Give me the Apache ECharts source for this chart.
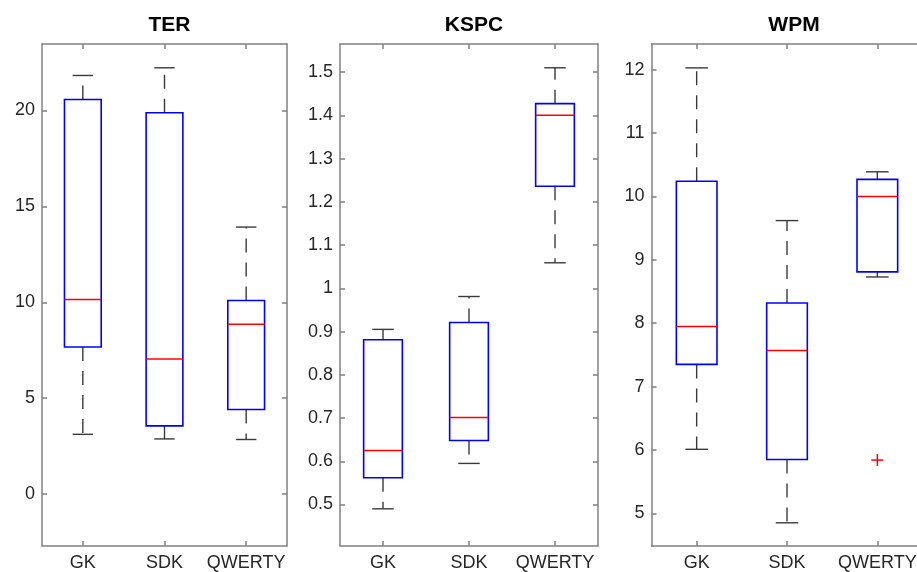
<!DOCTYPE html>
<html>
<head>
<meta charset="utf-8">
<script src="https://cdn.jsdelivr.net/npm/echarts@6/dist/echarts.min.js"></script>
<style>
html,body{margin:0;padding:0;background:#fff;overflow:hidden;}
#chart{width:930px;height:572px;}
</style>
</head>
<body>
<div id="chart"></div>
<script>
// ---- data ----
const categories = ['GK', 'SDK', 'QWERTY'];
const panelTitles = ['TER', 'KSPC', 'WPM'];
// [lower whisker, Q1, median, Q3, upper whisker]
const terStats = [[3.12, 7.67, 10.14, 20.57, 21.82], [2.88, 3.56, 7.05, 19.88, 22.22], [2.85, 4.41, 8.85, 10.09, 13.92]];
const kspcStats = [[0.49, 0.562, 0.625, 0.881, 0.905], [0.595, 0.648, 0.701, 0.921, 0.981], [1.059, 1.236, 1.40, 1.427, 1.51]];
const wpmStats = [[6.01, 7.35, 7.95, 10.24, 12.03], [4.85, 5.85, 7.57, 8.32, 9.62], [8.73, 8.81, 10.0, 10.27, 10.39]];
const terOutliers = [];
const kspcOutliers = [];
const wpmOutliers = [[2, 5.84]];
const terTicks = [0, 5, 10, 15, 20];
const kspcTicks = [0.5, 0.6, 0.7, 0.8, 0.9, 1, 1.1, 1.2, 1.3, 1.4, 1.5];
const wpmTicks = [5, 6, 7, 8, 9, 10, 11, 12];
const terRange = [-2.7, 23.46];
const kspcRange = [0.404, 1.565];
const wpmRange = [4.484, 12.407];

// ---- layout ----
const grids = [
  { left: 42, top: 44, width: 245, height: 502 },
  { left: 340, top: 44, width: 258, height: 502 },
  { left: 651.5, top: 44, width: 271, height: 502 }
];
const statsList = [terStats, kspcStats, wpmStats];
const outlierList = [terOutliers, kspcOutliers, wpmOutliers];
const tickList = [terTicks, kspcTicks, wpmTicks];
const rangeList = [terRange, kspcRange, wpmRange];

const axisColor = '#808080';
const labelColor = '#262626';
const FONT = '"Liberation Sans", Arial, sans-serif';

function renderBox(params, api) {
  const idx = api.value(0);
  const lo = api.value(1), q1 = api.value(2), med = api.value(3), q3 = api.value(4), hi = api.value(5);
  const unit = api.size([1, 0])[0];
  const hw = unit * 0.225, cw = unit * 0.125;
  const pLo = api.coord([idx, lo]);
  const pQ1 = api.coord([idx, q1]);
  const pMed = api.coord([idx, med]);
  const pQ3 = api.coord([idx, q3]);
  const pHi = api.coord([idx, hi]);
  const x = pLo[0];
  const wStyle = { stroke: '#3a3a3a', lineWidth: 1.4, lineDash: [14, 10] };
  const cStyle = { stroke: '#3a3a3a', lineWidth: 1.4 };
  return {
    type: 'group',
    children: [
      { type: 'line', shape: { x1: x, y1: pQ3[1], x2: x, y2: pHi[1] }, style: wStyle },
      { type: 'line', shape: { x1: x, y1: pQ1[1], x2: x, y2: pLo[1] }, style: wStyle },
      { type: 'line', shape: { x1: x - cw, y1: pHi[1], x2: x + cw, y2: pHi[1] }, style: cStyle },
      { type: 'line', shape: { x1: x - cw, y1: pLo[1], x2: x + cw, y2: pLo[1] }, style: cStyle },
      { type: 'rect', shape: { x: x - hw, y: pQ3[1], width: 2 * hw, height: pQ1[1] - pQ3[1] },
        style: { fill: '#ffffff', stroke: '#0000ff', lineWidth: 1.6 } },
      { type: 'line', shape: { x1: x - hw, y1: pMed[1], x2: x + hw, y2: pMed[1] },
        style: { stroke: '#ff0000', lineWidth: 1.5 } }
    ]
  };
}

function renderOutlier(params, api) {
  const p = api.coord([api.value(0), api.value(1)]);
  const s = 6;
  const st = { stroke: '#ff0000', lineWidth: 1.5 };
  return {
    type: 'group',
    children: [
      { type: 'line', shape: { x1: p[0] - s, y1: p[1], x2: p[0] + s, y2: p[1] }, style: st },
      { type: 'line', shape: { x1: p[0], y1: p[1] - s, x2: p[0], y2: p[1] + s }, style: st }
    ]
  };
}

const option = {
  backgroundColor: '#ffffff',
  animation: false,
  title: [],
  grid: [],
  xAxis: [],
  yAxis: [],
  series: []
};

grids.forEach((g, i) => {
  option.grid.push(Object.assign({ containLabel: false }, g));
  option.title.push({
    text: panelTitles[i],
    left: g.left + g.width / 2 + (i === 2 ? 2 : 0),
    top: 10,
    textAlign: 'center',
    textStyle: { fontFamily: FONT, fontSize: 21, fontWeight: 'bold', color: '#000' }
  });
  const lineStyle = { color: axisColor, width: 1.5 };
  // bottom x axis
  option.xAxis.push({
    type: 'category', gridIndex: i, position: 'bottom', data: categories,
    axisLine: { show: true, onZero: false, lineStyle },
    axisTick: { show: true, inside: true, alignWithLabel: true, length: 5, lineStyle },
    axisLabel: { color: labelColor, fontFamily: FONT, fontSize: 18, margin: 8, interval: 0, hideOverlap: false },
    splitLine: { show: false }
  });
  // top x axis (box border + ticks)
  option.xAxis.push({
    type: 'category', gridIndex: i, position: 'top', data: categories,
    axisLine: { show: true, onZero: false, lineStyle },
    axisTick: { show: true, inside: true, alignWithLabel: true, length: 5, lineStyle, interval: 0 },
    axisLabel: { show: false, interval: 0 },
    splitLine: { show: false }
  });
  const rng = rangeList[i];
  const ticks = tickList[i];
  // left y axis
  option.yAxis.push({
    type: 'value', gridIndex: i, position: 'left', min: rng[0], max: rng[1],
    axisLine: { show: true, onZero: false, lineStyle },
    axisTick: { show: true, inside: true, length: 5, lineStyle, customValues: ticks },
    axisLabel: { color: labelColor, fontFamily: FONT, fontSize: 18, margin: 7, customValues: ticks,
      showMinLabel: true, showMaxLabel: true },
    splitLine: { show: false }
  });
  // right y axis
  option.yAxis.push({
    type: 'value', gridIndex: i, position: 'right', min: rng[0], max: rng[1],
    axisLine: { show: true, onZero: false, lineStyle },
    axisTick: { show: true, inside: true, length: 5, lineStyle, customValues: ticks },
    axisLabel: { show: false, customValues: ticks },
    splitLine: { show: false }
  });
  option.series.push({
    type: 'custom',
    xAxisIndex: 2 * i,
    yAxisIndex: 2 * i,
    renderItem: renderBox,
    encode: { x: 0, y: [1, 2, 3, 4, 5] },
    data: statsList[i].map((s, k) => [k].concat(s))
  });
  if (outlierList[i].length) {
    option.series.push({
      type: 'custom',
      xAxisIndex: 2 * i,
      yAxisIndex: 2 * i,
      renderItem: renderOutlier,
      encode: { x: 0, y: 1 },
      data: outlierList[i]
    });
  }
});

const chart = echarts.init(document.getElementById('chart'), null, { renderer: 'canvas' });
chart.setOption(option);
</script>
</body>
</html>
